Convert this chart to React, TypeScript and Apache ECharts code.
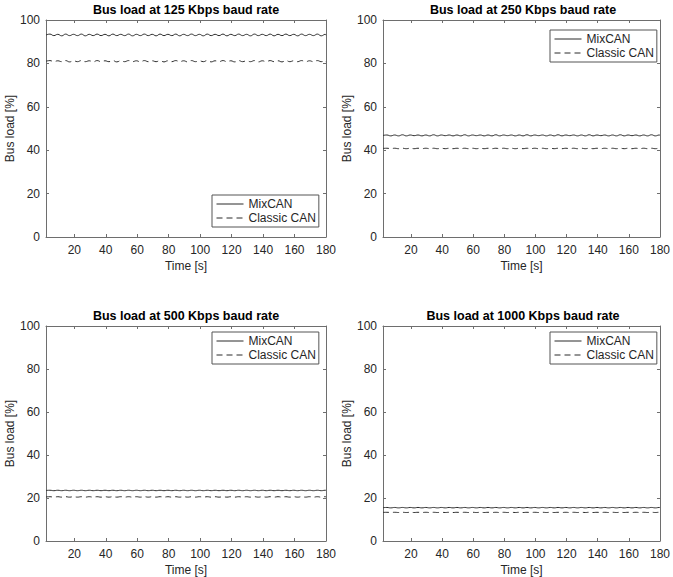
import React, { useEffect, useRef } from "react";
import * as echarts from "echarts";

// ---- data ----
const rates = [125, 250, 500, 1000];
const seriesNames = ["MixCAN", "Classic CAN"];
const xTicks = [20, 40, 60, 80, 100, 120, 140, 160, 180];
const yTicks = [0, 20, 40, 60, 80, 100];

const times = [
  2, 4.5, 7, 9.5, 12, 14.5, 17, 19.5, 22, 24.5,
  27, 29.5, 32, 34.5, 37, 39.5, 42, 44.5, 47, 49.5,
  52, 54.5, 57, 59.5, 62, 64.5, 67, 69.5, 72, 74.5,
  77, 79.5, 82, 84.5, 87, 89.5, 92, 94.5, 97, 99.5,
  102, 104.5, 107, 109.5, 112, 114.5, 117, 119.5, 122, 124.5,
  127, 129.5, 132, 134.5, 137, 139.5, 142, 144.5, 147, 149.5,
  152, 154.5, 157, 159.5, 162, 164.5, 167, 169.5, 172, 174.5,
  177, 179.5, 180,
];

const mix125 = [
  93.1, 93.5, 92.8, 93.4, 92.7, 93.5, 92.8, 93.4, 92.8, 93.5,
  92.7, 93.4, 92.8, 93.5, 92.8, 93.4, 92.7, 93.5, 92.8, 93.4,
  92.8, 93.5, 92.7, 93.4, 92.8, 93.5, 92.8, 93.4, 92.7, 93.5,
  92.8, 93.4, 92.8, 93.5, 92.7, 93.4, 92.8, 93.5, 92.8, 93.4,
  92.7, 93.5, 92.8, 93.4, 92.8, 93.5, 92.7, 93.4, 92.8, 93.5,
  92.8, 93.4, 92.7, 93.5, 92.8, 93.4, 92.8, 93.5, 92.7, 93.4,
  92.8, 93.5, 92.8, 93.4, 92.7, 93.5, 92.8, 93.4, 92.8, 93.5,
  92.7, 93.4, 93.0,
];
const classic125 = [
  81.0, 81.3, 80.8, 81.2, 80.8, 81.3, 80.7, 81.2, 80.8, 81.3,
  80.8, 81.2, 80.7, 81.3, 80.8, 81.2, 80.8, 81.3, 80.7, 81.2,
  80.8, 81.3, 80.8, 81.2, 80.7, 81.3, 80.8, 81.2, 80.8, 81.3,
  80.7, 81.2, 80.8, 81.3, 80.8, 81.2, 80.7, 81.3, 80.8, 81.2,
  80.8, 81.3, 80.7, 81.2, 80.8, 81.3, 80.8, 81.2, 80.7, 81.3,
  80.8, 81.2, 80.8, 81.3, 80.7, 81.2, 80.8, 81.3, 80.8, 81.2,
  80.7, 81.3, 80.8, 81.2, 80.8, 81.3, 80.7, 81.2, 80.8, 81.3,
  80.8, 81.2, 80.6,
];
const mix250 = [
  46.8, 47.0, 46.6, 47.0, 46.6, 47.1, 46.6, 47.0, 46.7, 47.0,
  46.6, 47.0, 46.6, 47.1, 46.6, 47.0, 46.7, 47.0, 46.6, 47.0,
  46.6, 47.1, 46.6, 47.0, 46.7, 47.0, 46.6, 47.0, 46.6, 47.1,
  46.6, 47.0, 46.7, 47.0, 46.6, 47.0, 46.6, 47.1, 46.6, 47.0,
  46.7, 47.0, 46.6, 47.0, 46.6, 47.1, 46.6, 47.0, 46.7, 47.0,
  46.6, 47.0, 46.6, 47.1, 46.6, 47.0, 46.7, 47.0, 46.6, 47.0,
  46.6, 47.1, 46.6, 47.0, 46.7, 47.0, 46.6, 47.0, 46.6, 47.1,
  46.6, 47.0, 46.8,
];
const classic250 = [
  40.8, 40.9, 40.7, 40.9, 40.7, 40.9, 40.7, 40.9, 40.7, 40.9,
  40.7, 40.9, 40.7, 40.9, 40.7, 40.9, 40.7, 40.9, 40.7, 40.9,
  40.7, 40.9, 40.7, 40.9, 40.7, 40.9, 40.7, 40.9, 40.7, 40.9,
  40.7, 40.9, 40.7, 40.9, 40.7, 40.9, 40.7, 40.9, 40.7, 40.9,
  40.7, 40.9, 40.7, 40.9, 40.7, 40.9, 40.7, 40.9, 40.7, 40.9,
  40.7, 40.9, 40.7, 40.9, 40.7, 40.9, 40.7, 40.9, 40.7, 40.9,
  40.7, 40.9, 40.7, 40.9, 40.7, 40.9, 40.7, 40.9, 40.7, 40.9,
  40.7, 40.9, 40.6,
];
const mix500 = [
  23.5, 23.6, 23.4, 23.6, 23.4, 23.6, 23.4, 23.6, 23.4, 23.6,
  23.4, 23.6, 23.4, 23.6, 23.4, 23.6, 23.4, 23.6, 23.4, 23.6,
  23.4, 23.6, 23.4, 23.6, 23.4, 23.6, 23.4, 23.6, 23.4, 23.6,
  23.4, 23.6, 23.4, 23.6, 23.4, 23.6, 23.4, 23.6, 23.4, 23.6,
  23.4, 23.6, 23.4, 23.6, 23.4, 23.6, 23.4, 23.6, 23.4, 23.6,
  23.4, 23.6, 23.4, 23.6, 23.4, 23.6, 23.4, 23.6, 23.4, 23.6,
  23.4, 23.6, 23.4, 23.6, 23.4, 23.6, 23.4, 23.6, 23.4, 23.6,
  23.4, 23.6, 23.5,
];
const classic500 = [
  20.5, 20.6, 20.4, 20.6, 20.4, 20.6, 20.4, 20.6, 20.4, 20.6,
  20.4, 20.6, 20.4, 20.6, 20.4, 20.6, 20.4, 20.6, 20.4, 20.6,
  20.4, 20.6, 20.4, 20.6, 20.4, 20.6, 20.4, 20.6, 20.4, 20.6,
  20.4, 20.6, 20.4, 20.6, 20.4, 20.6, 20.4, 20.6, 20.4, 20.6,
  20.4, 20.6, 20.4, 20.6, 20.4, 20.6, 20.4, 20.6, 20.4, 20.6,
  20.4, 20.6, 20.4, 20.6, 20.4, 20.6, 20.4, 20.6, 20.4, 20.6,
  20.4, 20.6, 20.4, 20.6, 20.4, 20.6, 20.4, 20.6, 20.4, 20.6,
  20.4, 20.6, 20.5,
];
const mix1000 = [
  15.5, 15.6, 15.4, 15.6, 15.4, 15.6, 15.4, 15.6, 15.4, 15.6,
  15.4, 15.6, 15.4, 15.6, 15.4, 15.6, 15.4, 15.6, 15.4, 15.6,
  15.4, 15.6, 15.4, 15.6, 15.4, 15.6, 15.4, 15.6, 15.4, 15.6,
  15.4, 15.6, 15.4, 15.6, 15.4, 15.6, 15.4, 15.6, 15.4, 15.6,
  15.4, 15.6, 15.4, 15.6, 15.4, 15.6, 15.4, 15.6, 15.4, 15.6,
  15.4, 15.6, 15.4, 15.6, 15.4, 15.6, 15.4, 15.6, 15.4, 15.6,
  15.4, 15.6, 15.4, 15.6, 15.4, 15.6, 15.4, 15.6, 15.4, 15.6,
  15.4, 15.6, 15.5,
];
const classic1000 = [
  13.3, 13.35, 13.25, 13.35, 13.25, 13.35, 13.25, 13.35, 13.25, 13.35,
  13.25, 13.35, 13.25, 13.35, 13.25, 13.35, 13.25, 13.35, 13.25, 13.35,
  13.25, 13.35, 13.25, 13.35, 13.25, 13.35, 13.25, 13.35, 13.25, 13.35,
  13.25, 13.35, 13.25, 13.35, 13.25, 13.35, 13.25, 13.35, 13.25, 13.35,
  13.25, 13.35, 13.25, 13.35, 13.25, 13.35, 13.25, 13.35, 13.25, 13.35,
  13.25, 13.35, 13.25, 13.35, 13.25, 13.35, 13.25, 13.35, 13.25, 13.35,
  13.25, 13.35, 13.25, 13.35, 13.25, 13.35, 13.25, 13.35, 13.25, 13.35,
  13.25, 13.35, 13.3,
];

const mixSeries = [mix125, mix250, mix500, mix1000];
const classicSeries = [classic125, classic250, classic500, classic1000];

// ---- layout ----
const FONT = "'Liberation Sans', Arial, Helvetica, sans-serif";
const TEXT = "#262626";
const AXIS = "#6e6e6e";
const LINE = "#2a2a2a";
const PLOT_W = 280;
const PLOT_H = 217;
const panels = [
  { left: 46, top: 20, legendLeft: 212, legendTop: 195 },
  { left: 383, top: 20, legendLeft: 550, legendTop: 30 },
  { left: 46, top: 326, legendLeft: 212, legendTop: 332 },
  { left: 383, top: 326, legendLeft: 550, legendTop: 332 },
];

function buildOption() {
  const grid: any[] = [];
  const xAxis: any[] = [];
  const yAxis: any[] = [];
  const title: any[] = [];
  const legend: any[] = [];
  const series: any[] = [];

  panels.forEach((p, i) => {
    grid.push({ left: p.left, top: p.top, width: PLOT_W, height: PLOT_H });
    title.push({
      text: `Bus load at ${rates[i]} Kbps baud rate`,
      left: p.left + PLOT_W / 2,
      top: p.top - 17,
      textAlign: "center",
      padding: 0,
      textStyle: { fontFamily: FONT, fontSize: 12.5, fontWeight: "bold", color: "#000" },
    });
    const axisCommon = {
      type: "value",
      gridIndex: i,
      min: 2,
      max: 180,
      splitLine: { show: false },
      axisLine: { show: true, onZero: false, lineStyle: { color: AXIS, width: 1 } },
      axisTick: { show: true, inside: true, length: 3, customValues: xTicks, lineStyle: { color: AXIS } },
    };
    xAxis.push({
      ...axisCommon,
      position: "bottom",
      name: "Time [s]",
      nameLocation: "middle",
      nameGap: 23,
      nameTextStyle: { fontFamily: FONT, fontSize: 12, color: TEXT },
      axisLabel: { show: true, customValues: xTicks, margin: 7, fontFamily: FONT, fontSize: 12, color: TEXT },
    });
    xAxis.push({ ...axisCommon, position: "top", axisLabel: { show: false } });
    const yCommon = {
      type: "value",
      gridIndex: i,
      min: yTicks[0],
      max: yTicks[yTicks.length - 1],
      interval: 20,
      splitLine: { show: false },
      axisLine: { show: true, onZero: false, lineStyle: { color: AXIS, width: 1 } },
      axisTick: { show: true, inside: true, length: 3, lineStyle: { color: AXIS } },
    };
    yAxis.push({
      ...yCommon,
      position: "left",
      name: "Bus load [%]",
      nameLocation: "middle",
      nameGap: 25,
      nameTextStyle: { fontFamily: FONT, fontSize: 12, color: TEXT },
      axisLabel: { show: true, margin: 6, fontFamily: FONT, fontSize: 12, color: TEXT },
    });
    yAxis.push({ ...yCommon, position: "right", axisLabel: { show: false } });

    legend.push({
      data: seriesNames,
      orient: "vertical",
      left: p.legendLeft,
      top: p.legendTop,
      padding: [3, 3, 3, 4],
      itemGap: 2,
      itemWidth: 27,
      itemHeight: 14,
      borderColor: "#555",
      borderWidth: 1,
      borderRadius: 0,
      backgroundColor: "#fff",
      itemStyle: { opacity: 0, color: "transparent", borderWidth: 0 },
      lineStyle: { width: 1 },
      textStyle: { fontFamily: FONT, fontSize: 12, color: TEXT },
    });

    series.push({
      name: seriesNames[0],
      type: "line",
      xAxisIndex: 2 * i,
      yAxisIndex: 2 * i,
      data: times.map((t, k) => [t, mixSeries[i][k]]),
      symbol: "none",
      smooth: true,
      lineStyle: { color: LINE, width: 1, type: "solid" },
      itemStyle: { color: LINE },
    });
    series.push({
      name: seriesNames[1],
      type: "line",
      xAxisIndex: 2 * i,
      yAxisIndex: 2 * i,
      data: times.map((t, k) => [t, classicSeries[i][k]]),
      symbol: "none",
      smooth: true,
      lineStyle: { color: LINE, width: 1, type: [6, 4] },
      itemStyle: { color: LINE },
    });
  });

  return {
    animation: false,
    backgroundColor: "#fff",
    textStyle: { fontFamily: FONT },
    title,
    grid,
    xAxis,
    yAxis,
    legend,
    series,
  };
}

export default function App() {
  const ref = useRef<HTMLDivElement>(null);
  useEffect(() => {
    if (!ref.current) return;
    const chart = echarts.init(ref.current, null, { renderer: "svg" });
    chart.setOption(buildOption() as any);
    return () => chart.dispose();
  }, []);
  return (
    <div
      ref={ref}
      style={{ position: "absolute", left: 0, top: 0, width: 673, height: 577, background: "#fff" }}
    />
  );
}
